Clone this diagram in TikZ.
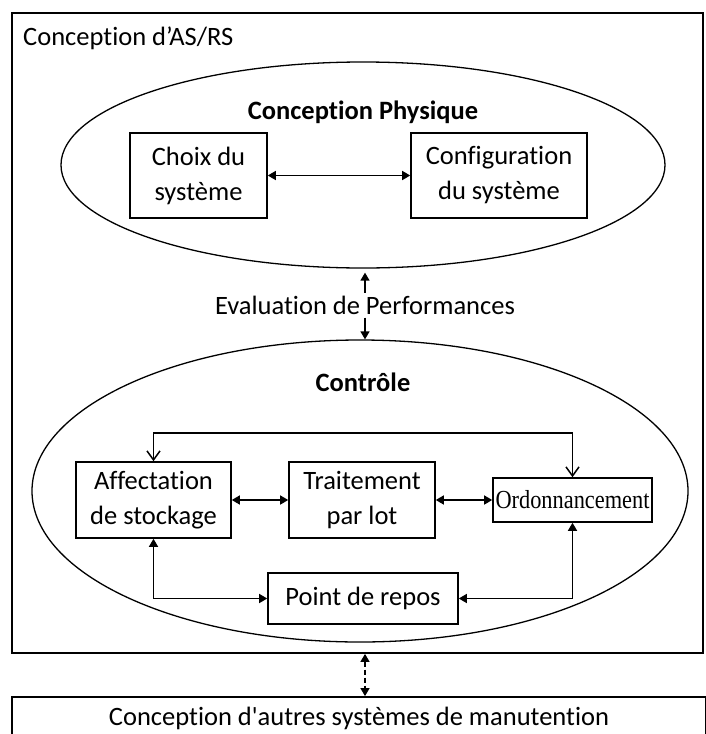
\documentclass[tikz,border=0pt]{standalone}
\usepackage{fontspec}
\setmainfont{Carlito}[Ligatures={TeX,NoCommon}]
\newfontfamily\ordofont[FakeStretch=0.86]{Liberation Serif}
\usepackage{tikz}
\usetikzlibrary{arrows.meta,shapes.geometric}

\begin{document}
\begin{tikzpicture}[
  x=1pt, y=-1pt,
  every node/.style={align=center, font=\fontsize{26.5}{35}\selectfont},
  box/.style={rectangle, sharp corners, draw=black, line width=1.6pt, inner sep=0pt},
  bubble/.style={ellipse, draw=black, line width=1.3pt, inner sep=0pt},
  arrow/.style={{Triangle[length=8pt,width=9pt]}-{Triangle[length=8pt,width=9pt]}, line width=1.5pt},
  uparrow/.style={-{Triangle[length=8pt,width=9pt]}, line width=1.5pt},
  openarrow/.style={{Straight Barb[length=9pt,width=13pt]}-{Straight Barb[length=9pt,width=13pt]}, line width=1.5pt}
]
\useasboundingbox (0,0) rectangle (705,734);

%% Outer frame: AS/RS design
\node[box, line width=1.8pt, minimum width=691pt, minimum height=640pt] (asrs) at (357.5,333) {};
\node[anchor=base west, inner sep=0pt] (asrslabel) at (23,45) {Conception d’AS/RS};

%% Physical design
\node[bubble, minimum width=604pt, minimum height=206pt] (phys) at (363,165) {};
\node[font=\fontsize{26.5}{35}\selectfont\bfseries] (physlabel) at (363,112) {Conception Physique};

\node[box, minimum width=137pt, minimum height=85pt] (choix) at (198.5,175.5) {Choix du\\système};
\node[box, minimum width=176pt, minimum height=85pt] (config) at (499,175.5) {Configuration\\du système};

%% Performance evaluation
\node[inner sep=3pt] (eval) at (365,305) {Evaluation de Performances};

%% Control
\node[bubble, minimum width=656pt, minimum height=302pt] (ctrl) at (360,491) {};
\node[font=\fontsize{26.5}{35}\selectfont\bfseries] (ctrllabel) at (363,382) {Contrôle};

\node[box, minimum width=155pt, minimum height=76pt] (affect) at (153.5,500) {Affectation\\de stockage};
\node[box, minimum width=146pt, minimum height=76pt] (batch) at (362,500) {Traitement\\par lot};
\node[box, minimum width=159pt, minimum height=44pt, font=\ordofont\fontsize{26}{30}\selectfont] (ordo) at (572.5,500) {Ordonnancement};
\node[box, minimum width=190pt, minimum height=51pt] (repos) at (363,598.5) {Point de repos};

%% Other handling systems
\node[box, line width=1.8pt, minimum width=694pt, minimum height=42pt] (other) at (359,718) {Conception d\textquotesingle autres systèmes de manutention};

%% Arrows inside physical design
\draw[arrow] (choix.east) -- (config.west);

%% Arrows between the two ellipses
\draw[uparrow, shorten >=4pt] (eval.north) -- (eval.north |- phys.south);
\draw[uparrow] (eval.south) -- (eval.south |- ctrl.north);

%% Arrows inside control
\draw[arrow] (affect.east) -- (batch.west);
\draw[arrow] (batch.east) -- (ordo.west);
\draw[openarrow] (affect.north) -- ++(0,-28) -| (ordo.north);
\draw[arrow] (affect.south) |- (repos.west);
\draw[arrow] (ordo.south) |- (repos.east);

%% Link to other systems
\draw[arrow, dashed, dash pattern=on 5pt off 3pt] (asrs.south -| eval.south) -- (other.north -| eval.south);

\end{tikzpicture}
\end{document}
